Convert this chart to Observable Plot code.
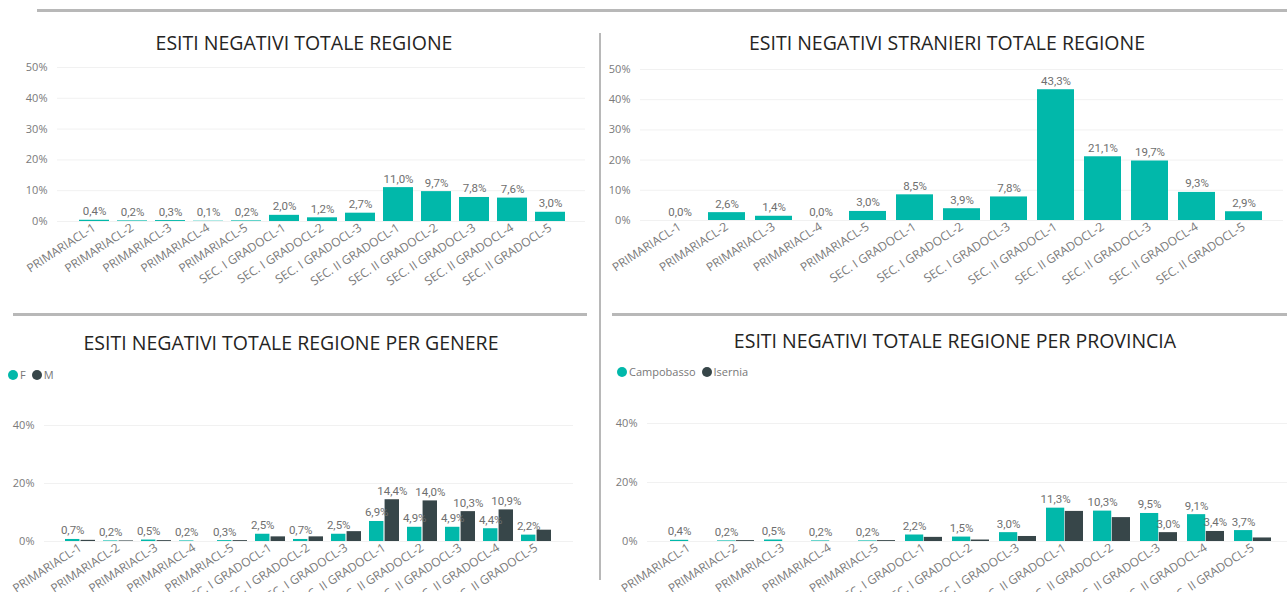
<!DOCTYPE html>
<html><head><meta charset="utf-8">
<script src="https://cdn.jsdelivr.net/npm/d3@7"></script>
<script src="https://cdn.jsdelivr.net/npm/@observablehq/plot@0.6"></script>
<style>
html,body{margin:0;padding:0;background:#fff;overflow:hidden;}
#root{position:relative;width:1287px;height:592px;overflow:hidden;font-family:"Open Sans",sans-serif;background:#fff;}
.line{position:absolute;background:#b8b8b8;z-index:5;}
.title{position:absolute;transform:translate(-50%,-50%);white-space:nowrap;font-size:19.5px;line-height:1;color:#252423;z-index:4;}
.legend{position:absolute;font-size:11px;color:#777;display:flex;align-items:center;line-height:1;z-index:4;}
.legend .dot{display:inline-block;width:10px;height:10px;border-radius:50%;margin-right:2px;}
.legend .item{display:flex;align-items:center;margin-right:6px;}
.chart{position:absolute;}
</style></head><body><div id="root"></div>
<script>
// ---------- data ----------
const categories = ["PRIMARIACL-1","PRIMARIACL-2","PRIMARIACL-3","PRIMARIACL-4","PRIMARIACL-5",
  "SEC. I GRADOCL-1","SEC. I GRADOCL-2","SEC. I GRADOCL-3",
  "SEC. II GRADOCL-1","SEC. II GRADOCL-2","SEC. II GRADOCL-3","SEC. II GRADOCL-4","SEC. II GRADOCL-5"];
const totaleRegione = [0.4,0.2,0.3,0.1,0.2,2.0,1.2,2.7,11.0,9.7,7.8,7.6,3.0];
const stranieriRegione = [0.0,2.6,1.4,0.0,3.0,8.5,3.9,7.8,43.3,21.1,19.7,9.3,2.9];
const genereSeries = ["F","M"];
const genereF = [0.7,0.2,0.5,0.2,0.3,2.5,0.7,2.5,6.9,4.9,4.9,4.4,2.2];
const genereM = [0.4,0.2,0.3,0.0,0.3,1.6,1.6,3.4,14.4,14.0,10.3,10.9,3.9];
const provinciaSeries = ["Campobasso","Isernia"];
const campobasso = [0.4,0.2,0.5,0.2,0.2,2.2,1.5,3.0,11.3,10.3,9.5,9.1,3.7];
const isernia = [0.0,0.3,0.0,0.0,0.3,1.4,0.5,1.7,10.2,8.1,3.0,3.4,1.2];
const titles = ["ESITI NEGATIVI TOTALE REGIONE","ESITI NEGATIVI STRANIERI TOTALE REGIONE",
  "ESITI NEGATIVI TOTALE REGIONE PER GENERE","ESITI NEGATIVI TOTALE REGIONE PER PROVINCIA"];
const ticksTop = [0,10,20,30,40,50];
const ticksBottom = [0,20,40];
const palette = ["#01B8AA","#374649"];

// ---------- helpers ----------
const root = document.getElementById("root");
const fmt = v => v.toFixed(1).replace(".", ",") + "%";
function add(el, css){ Object.assign(el.style, css); root.appendChild(el); return el; }
function line(l,t,w,h){ const d=document.createElement("div"); d.className="line"; add(d,{left:l+"px",top:t+"px",width:w+"px",height:h+"px"}); }
function title(text,cx,cy){ const d=document.createElement("div"); d.className="title"; d.textContent=text; add(d,{left:cx+"px",top:cy+"px"}); }
function legend(series,l,t){
  const d=document.createElement("div"); d.className="legend";
  series.forEach((s,i)=>{ const it=document.createElement("span"); it.className="item";
    const dot=document.createElement("span"); dot.className="dot"; dot.style.background=palette[i];
    it.appendChild(dot); it.appendChild(document.createTextNode(s)); d.appendChild(it); });
  add(d,{left:l+"px",top:t+"px"});
}
const axisStyle = {fontFamily:"'Open Sans', sans-serif", fontSize:"11px", color:"#7a7a7a", background:"transparent", overflow:"visible"};
const labelOpts = {fill:"#6f6f6f", fontFamily:"Roboto, sans-serif", fontSize:11.5, lineAnchor:"bottom", dy:-5};

function frame(g){
  return {
    width:g.width, height:g.height,
    marginLeft:g.gridL-g.left, marginRight:g.left+g.width-g.gridR,
    marginTop:g.yTop-g.top, marginBottom:g.top+g.height-g.y0,
  };
}
function place(svg,g){
  d3.select(svg).selectAll('[aria-label^="x-axis"] text, [aria-label^="x-axis"]').attr("font-size", 12);
  const w=document.createElement("div"); w.className="chart"; w.appendChild(svg); add(w,{left:g.left+"px",top:g.top+"px"});
}
const xOpts = g => ({type:"band",domain:categories,padding:g.pad,insetLeft:g.r0-g.gridL,insetRight:g.gridR-g.r1,label:null,tickSize:0,tickPadding:5,tickRotate:-33});
const yOpts = g => ({domain:[0,g.yMax],ticks:g.ticks,tickFormat:d=>d+"%",label:null,tickSize:0,tickPadding:10,grid:true});

function singleChart(values,g){
  const data = categories.map((c,i)=>({cat:c,v:values[i]}));
  const svg = Plot.plot({
    ...frame(g), style:axisStyle, x:xOpts(g), y:yOpts(g),
    marks:[
      Plot.barY(data,{x:"cat",y:"v",fill:palette[0]}),
      Plot.text(data,{x:"cat",y:"v",text:d=>fmt(d.v),...labelOpts})
    ]
  });
  place(svg,g);
}

function groupedChart(a,b,g){
  const n = categories.length;
  const step = (g.r1-g.r0)/(n+g.pad);
  const half = step*(1-g.pad)/2;
  const da = categories.map((c,i)=>({cat:c,v:a[i],o:b[i]}));
  const db = categories.map((c,i)=>({cat:c,v:b[i],o:a[i]}));
  const svg = Plot.plot({
    ...frame(g), style:axisStyle, x:xOpts(g), y:yOpts(g),
    marks:[
      Plot.barY(da,{x:"cat",y:"v",fill:palette[0],insetRight:half}),
      Plot.barY(db,{x:"cat",y:"v",fill:palette[1],insetLeft:half}),
      Plot.text(db.filter(d=>Math.abs(d.v-d.o)>4),{x:"cat",y:"v",text:d=>fmt(d.v),dx:half/2,...labelOpts}),
      Plot.text(da,{x:"cat",y:"v",text:d=>fmt(d.v),dx:-half/2,...labelOpts})
    ]
  });
  place(svg,g);
}

// ---------- layout ----------
const g1 = {left:0,top:55,width:600,height:245,gridL:57,gridR:585,r0:64,r1:579,y0:221,yTop:67,yMax:50,ticks:ticksTop,pad:0.22};
const g2 = {left:600,top:55,width:687,height:245,gridL:640,gridR:1283,r0:649,r1:1275,y0:220,yTop:69,yMax:50,ticks:ticksTop,pad:0.21};
const g3 = {left:0,top:380,width:600,height:262,gridL:44,gridR:573,r0:51,r1:565,y0:541,yTop:396,yMax:50,ticks:ticksBottom,pad:0.2};
const g4 = {left:600,top:380,width:687,height:262,gridL:647,gridR:1287,r0:657,r1:1285,y0:541,yTop:393.5,yMax:50,ticks:ticksBottom,pad:0.21};

singleChart(totaleRegione,g1);
singleChart(stranieriRegione,g2);
groupedChart(genereF,genereM,g3);
groupedChart(campobasso,isernia,g4);

title(titles[0],304,43);
title(titles[1],947,43);
title(titles[2],291,343);
title(titles[3],955,341);
legend(genereSeries,8,369);
legend(provinciaSeries,617,366);

line(37,9,1250,3);
line(599,33,2,547);
line(13,313,574,3);
line(612,313,675,3);
</script>
</body></html>
